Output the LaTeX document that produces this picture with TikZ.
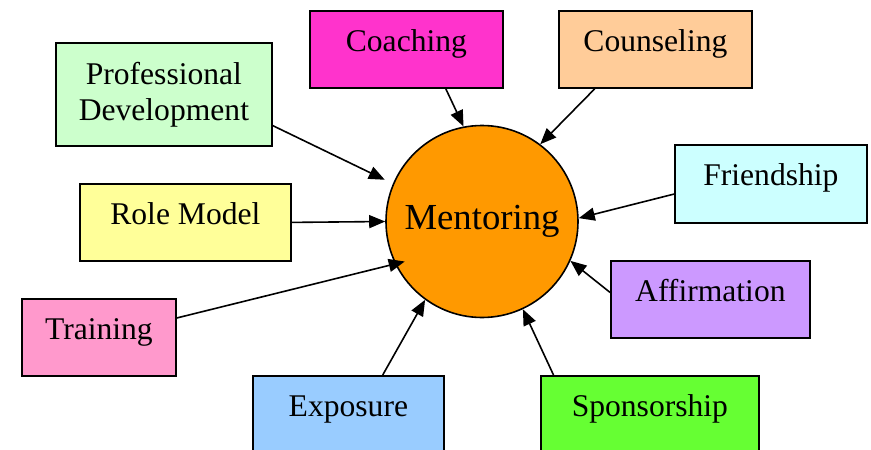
\documentclass[tikz,border=0pt]{standalone}
\usepackage{fontspec}
\setmainfont{Liberation Serif}
\usetikzlibrary{arrows.meta}

\definecolor{coachfill}{HTML}{FF33CC}
\definecolor{counselfill}{HTML}{FFCC99}
\definecolor{prodevfill}{HTML}{CCFFCC}
\definecolor{friendfill}{HTML}{CCFFFF}
\definecolor{rolefill}{HTML}{FFFF99}
\definecolor{affirmfill}{HTML}{CC99FF}
\definecolor{trainfill}{HTML}{FF99CC}
\definecolor{exposefill}{HTML}{99CCFF}
\definecolor{sponsorfill}{HTML}{66FF33}
\definecolor{mentorfill}{HTML}{FF9900}

\tikzset{
  tag/.style={draw, line width=1.8pt, inner sep=0pt, anchor=north west,
    align=center, font=\fontsize{31.6}{36}\selectfont},
  row/.style={text height=41pt, text depth=#1},
  link/.style={-{Triangle[length=16pt,width=13pt]}, line width=1.6pt},
}

\begin{document}
\begin{tikzpicture}[x=1pt, y=-1pt]
        \useasboundingbox (0,0) rectangle (871,450);
        \clip (0,0) rectangle (871,450);
        % the hub
        \node[circle, draw, line width=1.6pt, fill=mentorfill, minimum size=192pt,
          inner sep=0pt, font=\fontsize{36.7}{40}\selectfont] (m) at (482,221.5) {Mentoring};
        % the boxes round it
        \node[tag, row=36pt, fill=coachfill, minimum width=193pt] (coach) at (309,10) {Coaching};
        \node[tag, row=36pt, fill=counselfill, minimum width=193pt] (couns) at (558,10) {Counseling};
        \node[tag, fill=prodevfill, minimum width=216pt, minimum height=103pt] (pd) at (55,42) {Professional\\Development};
        \node[tag, row=37pt, fill=friendfill, minimum width=192pt] (friend) at (674,144) {Friendship};
        \node[tag, row=36pt, fill=rolefill, minimum width=211pt] (role) at (79,183) {Role Model};
        \node[tag, row=36pt, fill=affirmfill, minimum width=199pt] (affirm) at (610,260) {Affirmation};
        \node[tag, row=36pt, fill=trainfill, minimum width=154pt] (train) at (21,298) {Training};
        \node[tag, row=39pt, fill=exposefill, minimum width=191pt] (expo) at (252,375) {Exposure};
        \node[tag, row=39pt, fill=sponsorfill, minimum width=218pt] (spons) at (540,375) {Sponsorship};
        % arrows into the hub
        \foreach \src/\a/\b/\cut in {pd/-16.6/157.8/9, coach/-45.8/101/0, couns/213.8/53/0,
            friend/186.5/2/0, role/0/180/0, train/14.2/206.6/-10, expo/50/234.7/0,
            spons/157.4/-65.3/0, affirm/176.8/-24.7/0}
        {   \draw[link, shorten >=\cut pt] (\src.\a) -- (m.\b);
        }
      \end{tikzpicture}
\end{document}
